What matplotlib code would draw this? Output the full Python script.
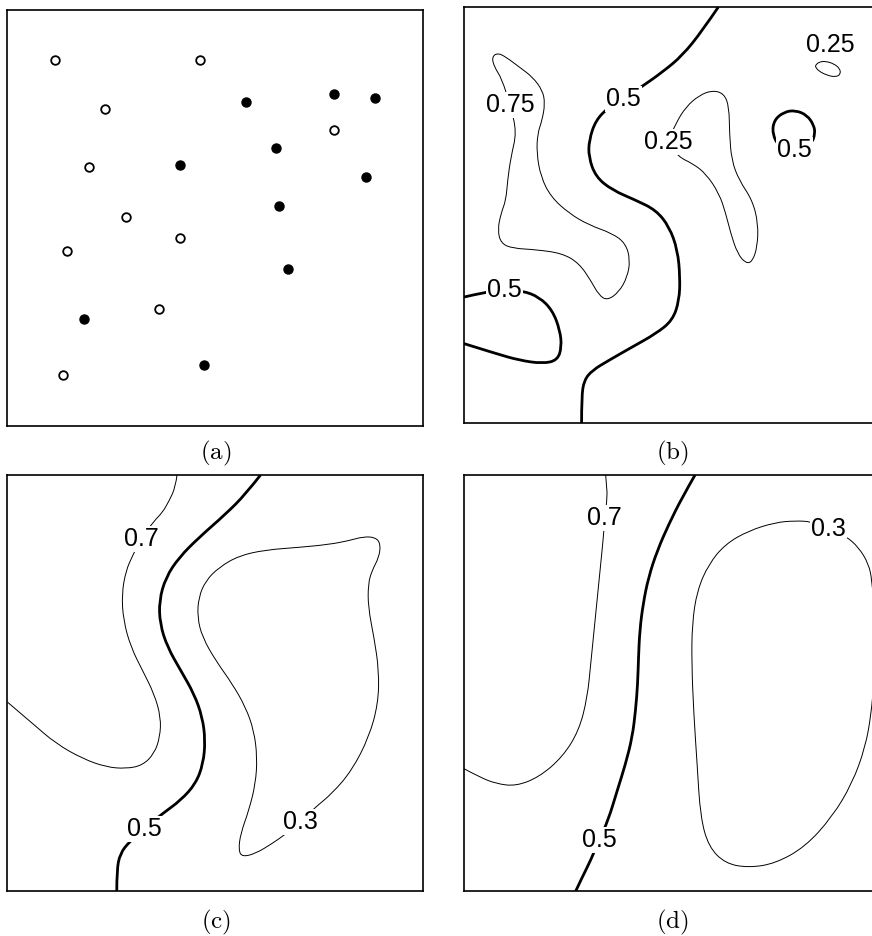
import numpy as np
import matplotlib
matplotlib.use("Agg")
import matplotlib.pyplot as plt
from matplotlib.path import Path
from matplotlib.patches import PathPatch

plt.rcParams['mathtext.fontset'] = 'cm'
plt.rcParams['font.family'] = ['Liberation Sans', 'DejaVu Sans']

# ---- panel (a): two classes of points ----
open_x = [0.115, 0.464, 0.235, 0.786, 0.195, 0.284, 0.415, 0.144, 0.365, 0.134]
open_y = [0.881, 0.881, 0.762, 0.712, 0.623, 0.502, 0.452, 0.421, 0.281, 0.123]
fill_x = [0.574, 0.785, 0.884, 0.645, 0.414, 0.864, 0.654, 0.674, 0.183, 0.474]
fill_y = [0.780, 0.798, 0.788, 0.669, 0.628, 0.599, 0.530, 0.378, 0.257, 0.147]

# ---- panel (b): traced contour lines ----
b_05_main = [(0.612, 1.0), (0.574, 0.944), (0.526, 0.884), (0.478, 0.844), (0.421, 0.804),
             (0.383, 0.780), (0.349, 0.760), (0.317, 0.728), (0.301, 0.680), (0.300, 0.640),
             (0.317, 0.592), (0.357, 0.560), (0.413, 0.536), (0.462, 0.512), (0.494, 0.472),
             (0.514, 0.416), (0.520, 0.351), (0.518, 0.295), (0.502, 0.247), (0.462, 0.215),
             (0.405, 0.183), (0.349, 0.151), (0.309, 0.127), (0.289, 0.103), (0.283, 0.063),
             (0.283, 0.0)]
b_05_left = [(0.0, 0.303), (0.053, 0.315), (0.097, 0.321), (0.141, 0.318), (0.181, 0.303),
             (0.213, 0.271), (0.231, 0.223), (0.235, 0.183), (0.225, 0.151), (0.189, 0.143),
             (0.133, 0.151), (0.077, 0.167), (0.0, 0.191)]
b_05_loop = [(0.758, 0.664), (0.742, 0.696), (0.746, 0.728), (0.770, 0.748), (0.798, 0.752),
             (0.826, 0.740), (0.842, 0.716), (0.845, 0.696), (0.837, 0.672), (0.800, 0.652),
             (0.758, 0.664)]
b_025_small = [(0.846, 0.860), (0.854, 0.868), (0.870, 0.870), (0.890, 0.864), (0.905, 0.852),
               (0.906, 0.838), (0.894, 0.832), (0.874, 0.836), (0.854, 0.846), (0.846, 0.856),
               (0.846, 0.860)]
b_075 = [(0.111, 0.764), (0.091, 0.828), (0.073, 0.856), (0.067, 0.880), (0.081, 0.890),
         (0.101, 0.880), (0.133, 0.856), (0.165, 0.832), (0.189, 0.800), (0.195, 0.768),
         (0.188, 0.728), (0.177, 0.696), (0.175, 0.648), (0.185, 0.592), (0.209, 0.544),
         (0.253, 0.504), (0.301, 0.476), (0.357, 0.456), (0.389, 0.432), (0.400, 0.392),
         (0.393, 0.351), (0.373, 0.315), (0.345, 0.295), (0.325, 0.307), (0.305, 0.343),
         (0.277, 0.384), (0.237, 0.408), (0.173, 0.417), (0.117, 0.420), (0.089, 0.432),
         (0.081, 0.464), (0.089, 0.504), (0.101, 0.536), (0.105, 0.584), (0.113, 0.640),
         (0.127, 0.700), (0.111, 0.764)]
b_025_mid = [(0.491, 0.676), (0.510, 0.721), (0.534, 0.760), (0.566, 0.788), (0.598, 0.800),
             (0.626, 0.792), (0.638, 0.760), (0.639, 0.696), (0.644, 0.632), (0.662, 0.584),
             (0.694, 0.536), (0.708, 0.480), (0.706, 0.424), (0.694, 0.388), (0.678, 0.384),
             (0.658, 0.408), (0.642, 0.456), (0.630, 0.504), (0.614, 0.552), (0.582, 0.600),
             (0.550, 0.624), (0.516, 0.640), (0.491, 0.676)]
b_labels = [("0.5", 0.383, 0.780), ("0.5", 0.097, 0.321), ("0.5", 0.796, 0.656),
            ("0.25", 0.882, 0.908), ("0.75", 0.111, 0.764), ("0.25", 0.491, 0.676)]

# ---- panel (c) ----
c_05 = [(0.609, 1.0), (0.573, 0.954), (0.525, 0.906), (0.461, 0.850), (0.413, 0.802),
        (0.381, 0.754), (0.365, 0.698), (0.367, 0.642), (0.385, 0.586), (0.417, 0.530),
        (0.449, 0.474), (0.469, 0.418), (0.476, 0.362), (0.471, 0.306), (0.453, 0.258),
        (0.417, 0.218), (0.373, 0.186), (0.329, 0.150), (0.293, 0.118), (0.271, 0.090),
        (0.263, 0.050), (0.263, 0.0)]
c_07 = [(0.408, 1.0), (0.404, 0.970), (0.389, 0.938), (0.373, 0.910), (0.353, 0.890),
        (0.321, 0.846), (0.301, 0.806), (0.285, 0.770), (0.275, 0.714), (0.279, 0.650),
        (0.297, 0.586), (0.325, 0.530), (0.353, 0.474), (0.369, 0.418), (0.367, 0.370),
        (0.353, 0.330), (0.325, 0.302), (0.285, 0.294), (0.237, 0.298), (0.181, 0.318),
        (0.117, 0.354), (0.061, 0.402), (0.0, 0.454)]
c_03 = [(0.705, 0.166), (0.737, 0.198), (0.781, 0.234), (0.829, 0.290), (0.870, 0.370),
        (0.892, 0.450), (0.894, 0.530), (0.882, 0.610), (0.868, 0.682), (0.868, 0.738),
        (0.877, 0.770), (0.894, 0.802), (0.898, 0.834), (0.886, 0.850), (0.857, 0.852),
        (0.821, 0.842), (0.773, 0.833), (0.701, 0.826), (0.621, 0.820), (0.557, 0.806),
        (0.509, 0.778), (0.477, 0.746), (0.460, 0.706), (0.457, 0.658), (0.469, 0.610),
        (0.501, 0.554), (0.541, 0.498), (0.573, 0.442), (0.593, 0.386), (0.601, 0.322),
        (0.597, 0.258), (0.581, 0.194), (0.561, 0.138), (0.556, 0.098), (0.565, 0.082),
        (0.597, 0.090), (0.637, 0.114), (0.671, 0.138), (0.705, 0.166)]
c_labels = [("0.5", 0.329, 0.150), ("0.7", 0.321, 0.846), ("0.3", 0.705, 0.166)]

# ---- panel (d) ----
d_05 = [(0.556, 1.0), (0.525, 0.946), (0.493, 0.882), (0.465, 0.818), (0.444, 0.754),
        (0.431, 0.690), (0.423, 0.626), (0.420, 0.562), (0.418, 0.498), (0.413, 0.434),
        (0.405, 0.370), (0.389, 0.306), (0.369, 0.242), (0.347, 0.170), (0.325, 0.122),
        (0.305, 0.074), (0.285, 0.034), (0.269, 0.0)]
d_07 = [(0.341, 1.0), (0.343, 0.974), (0.345, 0.950), (0.339, 0.897), (0.335, 0.846),
        (0.329, 0.786), (0.321, 0.706), (0.313, 0.626), (0.305, 0.546), (0.297, 0.466),
        (0.277, 0.386), (0.237, 0.322), (0.181, 0.274), (0.125, 0.252), (0.077, 0.258),
        (0.037, 0.274), (0.0, 0.294)]
d_03 = [(0.877, 0.870), (0.918, 0.854), (0.950, 0.826), (0.974, 0.786), (0.982, 0.746),
        (0.988, 0.666), (0.990, 0.586), (0.986, 0.498), (0.980, 0.426), (0.966, 0.346),
        (0.934, 0.258), (0.886, 0.178), (0.821, 0.106), (0.749, 0.066), (0.685, 0.056),
        (0.629, 0.066), (0.589, 0.106), (0.569, 0.178), (0.561, 0.306), (0.553, 0.426),
        (0.548, 0.546), (0.549, 0.642), (0.561, 0.722), (0.589, 0.786), (0.629, 0.834),
        (0.685, 0.866), (0.749, 0.886), (0.797, 0.890), (0.837, 0.888), (0.877, 0.870)]
d_labels = [("0.5", 0.325, 0.122), ("0.7", 0.339, 0.897), ("0.3", 0.877, 0.870)]

captions = ["(a)", "(b)", "(c)", "(d)"]

THICK, THIN = 2.0, 0.7


def setup(ax):
    ax.set_xlim(0, 1)
    ax.set_ylim(0, 1)
    ax.set_xticks([])
    ax.set_yticks([])
    for s in ax.spines.values():
        s.set_linewidth(1.2)
        s.set_zorder(4)


def draw_line(ax, pts, lw):
    # smooth the traced points with quadratic bezier segments
    p = np.array(pts, dtype=float)
    closed = np.allclose(p[0], p[-1])
    if closed:
        p = p[:-1]
        n = len(p)
        mids = (p + np.roll(p, -1, axis=0)) / 2
        verts = [mids[-1]]
        codes = [Path.MOVETO]
        for i in range(n):
            verts += [p[i], mids[i]]
            codes += [Path.CURVE3, Path.CURVE3]
    else:
        n = len(p)
        verts = [p[0]]
        codes = [Path.MOVETO]
        for i in range(1, n - 1):
            end = p[n - 1] if i == n - 2 else (p[i] + p[i + 1]) / 2
            verts += [p[i], end]
            codes += [Path.CURVE3, Path.CURVE3]
        if n == 2:
            verts.append(p[1])
            codes.append(Path.LINETO)
    patch = PathPatch(Path(verts, codes), fill=False, edgecolor='black', lw=lw,
                      capstyle='butt', zorder=2)
    ax.add_patch(patch)


def draw_labels(ax, labels):
    for txt, x, y in labels:
        ax.text(x, y, txt, fontsize=18, ha='center', va='center', zorder=3,
                bbox=dict(facecolor='white', edgecolor='none', pad=0.8))


fig = plt.figure(figsize=(8.72, 9.36), dpi=100)
w, h = 0.4765, 0.4444
ax_a = fig.add_axes([0.0086, 0.5449, w, h])
ax_b = fig.add_axes([0.5321, 0.5480, w, h])
ax_c = fig.add_axes([0.0086, 0.0481, w, h])
ax_d = fig.add_axes([0.5321, 0.0481, w, h])
for ax in (ax_a, ax_b, ax_c, ax_d):
    setup(ax)

# (a)
ax_a.plot(open_x, open_y, 'o', ms=6.2, mfc='white', mec='black', mew=1.3)
ax_a.plot(fill_x, fill_y, 'o', ms=6.5, mfc='black', mec='black')

# (b)
for line in (b_05_main, b_05_left, b_05_loop):
    draw_line(ax_b, line, THICK)
for line in (b_025_small, b_075, b_025_mid):
    draw_line(ax_b, line, THIN)
draw_labels(ax_b, b_labels)

# (c)
draw_line(ax_c, c_05, THICK)
draw_line(ax_c, c_07, THIN)
draw_line(ax_c, c_03, THIN)
draw_labels(ax_c, c_labels)

# (d)
draw_line(ax_d, d_05, THICK)
draw_line(ax_d, d_07, THIN)
draw_line(ax_d, d_03, THIN)
draw_labels(ax_d, d_labels)

# captions under each panel
cap_pos = [(0.2477, 0.516), (0.7706, 0.516), (0.2477, 0.015), (0.7706, 0.015)]
for cap, (x, y) in zip(captions, cap_pos):
    fig.text(x, y, r'$\mathrm{' + cap + '}$', fontsize=18, ha='center', va='center')

fig.savefig('out.png', dpi=100)
